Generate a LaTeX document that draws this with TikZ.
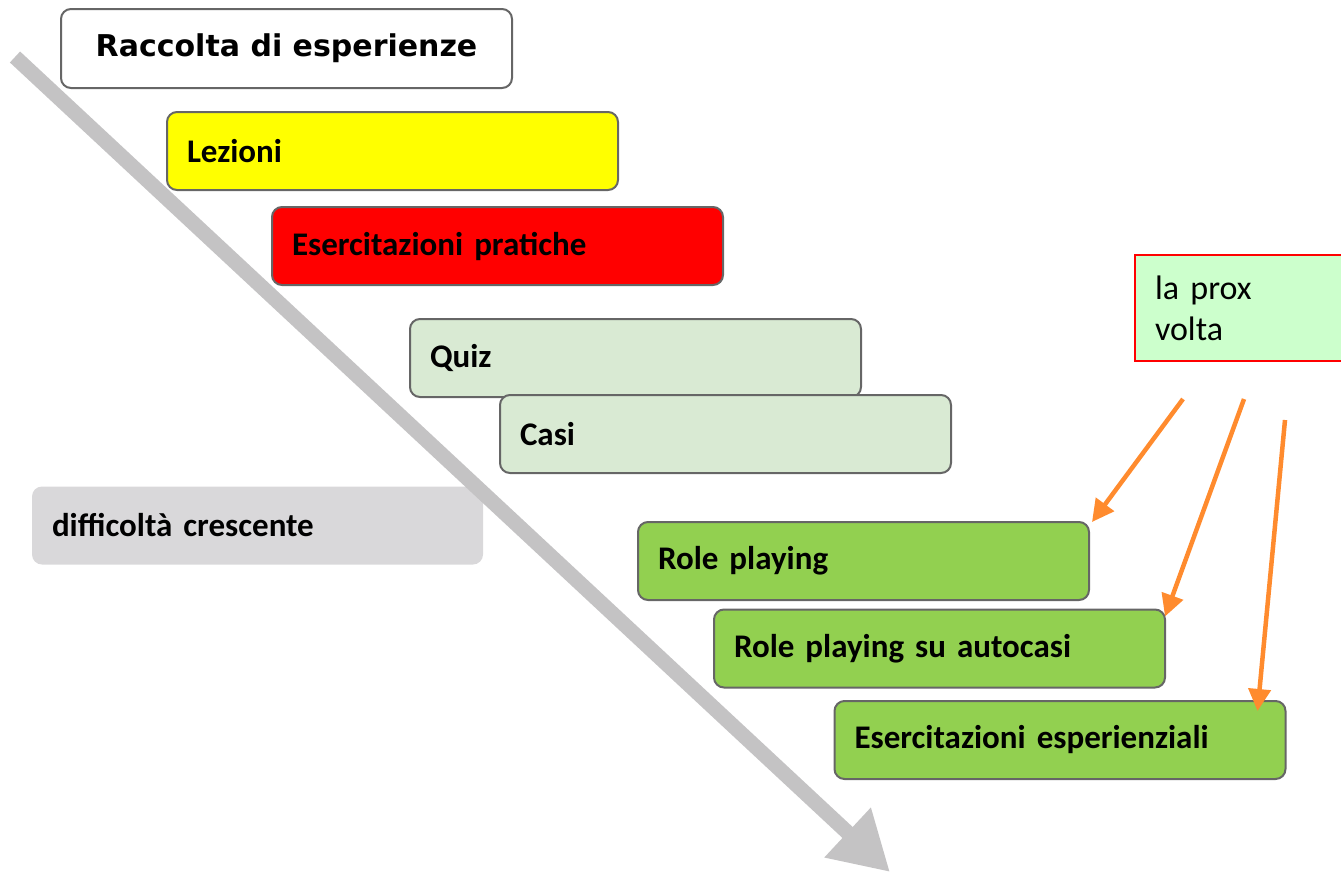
\documentclass[tikz,border=0pt]{standalone}
\usepackage{fontspec}
\setmainfont{Carlito}
\newfontfamily\titlefont{DejaVu Sans}
\usetikzlibrary{arrows.meta,positioning}
\definecolor{boxline}{HTML}{666666}
\definecolor{pureyellow}{HTML}{FFFF00}
\definecolor{purered}{HTML}{FF0000}
\definecolor{lightsage}{HTML}{D9EAD3}
\definecolor{grassgreen}{HTML}{92D050}
\definecolor{notegreen}{HTML}{CCFFCC}
\definecolor{softgray}{HTML}{D9D8DA}
\definecolor{arrowgray}{HTML}{C4C3C4}
\definecolor{tangerine}{HTML}{FF8B2E}

\tikzset{
  stepbox/.style={draw=boxline, line width=2pt, rounded corners=10pt,
    minimum width=451pt, minimum height=78pt, inner xsep=20pt,
    text width=411pt, align=left, font=\fontsize{33}{38}\selectfont\bfseries},
  hint/.style={->, tangerine, line width=4.5pt, >={Triangle[length=22pt,width=22pt]}}
}

\begin{document}
\begin{tikzpicture}[x=1pt,y=-1pt]
	\useasboundingbox (0,0) rectangle (1341,873);
	\begin{scope}
		\draw (286.5,48.5) node[draw=boxline, line width=2pt, rounded corners=10pt, minimum width=451pt, minimum height=79pt, fill=white](raccolta)
			{{\titlefont\fontsize{30}{34}\selectfont\bfseries Raccolta di esperienze}};

		\draw (392.5,151) node[stepbox, fill=pureyellow](lezioni) {Lezioni};
		\draw (497.5,246) node[stepbox, fill=purered](pratiche) {Esercitazioni pratiche};
		\draw (635.5,358) node[stepbox, fill=lightsage](quiz) {Quiz};
		\draw (725.5,434) node[stepbox, fill=lightsage](casi) {Casi};
		\draw (257.5,525.5) node[stepbox, draw=none, fill=softgray](difficolta) {difficoltà crescente};
		\draw (863.5,561) node[stepbox, fill=grassgreen](roleplay) {Role playing};
		\draw (939.5,648.5) node[stepbox, fill=grassgreen](autocasi) {Role playing su autocasi};
		\draw (1060,740) node[stepbox, fill=grassgreen](esperienziali) {Esercitazioni esperienziali};

		% nota a destra
		\draw (1134,254) node[draw=red, line width=2pt, fill=notegreen, anchor=north west,
			minimum width=212pt, minimum height=106pt, inner xsep=20pt, text width=172pt,
			align=left, font=\fontsize{34}{41}\selectfont](prox) {la prox\\volta};

		\coordinate (h1) at (1183,399);
		\coordinate (h2) at (1244,399);
		\coordinate (h3) at (1285,420);
		\draw [hint] (h1) -- ([xshift=2pt,yshift=-1pt]roleplay.north east);
		\draw [hint] (h2) -- ([xshift=-1pt,yshift=-8pt]autocasi.north east);
		\draw [hint] (h3) -- ([xshift=-29pt,yshift=-11pt]esperienziali.north east);

		% freccia della difficolta
		\coordinate (start) at (15,57);
		\coordinate (end) at (890,872);
		\draw [arrowgray, line width=15pt, -{Triangle[length=58pt,width=64pt]}] (start) -- (end);
	\end{scope}
\end{tikzpicture}
\end{document}
